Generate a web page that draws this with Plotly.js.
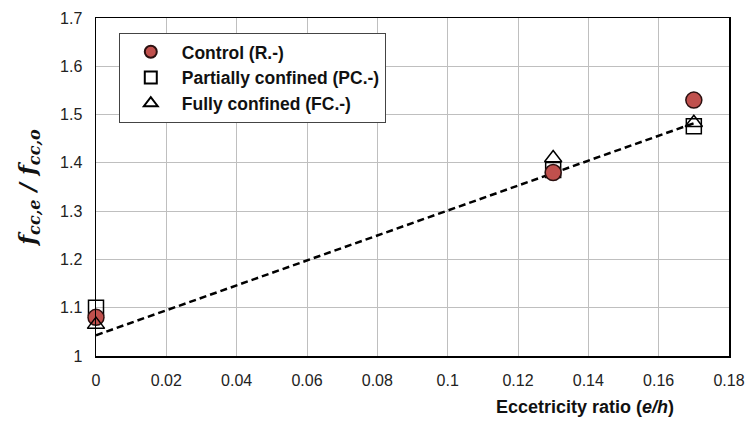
<!DOCTYPE html>
<html>
<head>
<meta charset="utf-8">
<script src="https://cdn.plot.ly/plotly-3.0.1.min.js"></script>
<style>html,body{margin:0;padding:0;background:#fff;}#chart{width:748px;height:428px;}</style>
</head>
<body>
<div id="chart"></div>
<script>
// Data
const ecc = [0, 0.13, 0.17];
const controlVals = [1.08, 1.38, 1.53];
const partialVals = [1.10, 1.385, 1.476];
const fullVals = [1.065, 1.41, 1.483];
const trendX = [0, 0.17];
const trendY = [1.043, 1.482];
const xTicks = [0, 0.02, 0.04, 0.06, 0.08, 0.1, 0.12, 0.14, 0.16, 0.18];
const xTickText = ['0', '0.02', '0.04', '0.06', '0.08', '0.1', '0.12', '0.14', '0.16', '0.18'];
const yTicks = [1, 1.1, 1.2, 1.3, 1.4, 1.5, 1.6, 1.7];
const yTickText = ['1', '1.1', '1.2', '1.3', '1.4', '1.5', '1.6', '1.7'];

const traces = [
  {x: trendX, y: trendY, mode: 'lines', showlegend: false, hoverinfo: 'skip', cliponaxis: false,
   line: {color: '#000', width: 2.5, dash: '7px,4px'}},
  {x: ecc, y: partialVals, mode: 'markers', name: 'Partially confined (PC.-)', legendrank: 2, cliponaxis: false,
   marker: {symbol: 'square-open', size: 15, color: '#000', line: {width: 1.5, color: '#000'}}},
  {x: ecc, y: controlVals, mode: 'markers', name: 'Control (R.-)', legendrank: 1, cliponaxis: false,
   marker: {symbol: 'circle', size: 16, color: '#c0504d', line: {width: 1.5, color: '#2b1010'}}},
  {x: ecc, y: fullVals, mode: 'markers', name: 'Fully confined (FC.-)', legendrank: 3, cliponaxis: false,
   marker: {symbol: 'triangle-up-open', size: 15, color: '#000', line: {width: 1.5, color: '#000'}}}
];

const layout = {
  width: 748, height: 428,
  margin: {l: 96, r: 19, t: 18, b: 72},
  paper_bgcolor: '#fff', plot_bgcolor: '#fff',
  font: {family: 'Liberation Sans, Arial, sans-serif', color: '#222', size: 16},
  showlegend: true,
  legend: {x: 0.036, y: 0.956, xanchor: 'left', yanchor: 'top',
           bgcolor: '#fff', bordercolor: '#444', borderwidth: 1,
           font: {size: 17.5, color: '#111', family: 'Liberation Sans, Arial, sans-serif', weight: 'bold'},
           traceorder: 'normal', tracegroupgap: 0, itemwidth: 52, itemsizing: 'constant'},
  xaxis: {range: [0, 0.18], tickvals: xTicks, ticktext: xTickText,
          showgrid: true, gridcolor: '#bfbfbf', gridwidth: 1,
          showline: true, linecolor: '#000', linewidth: 1.5, mirror: true,
          ticks: '', zeroline: false, ticklabelstandoff: 9, tickfont: {size: 16, color: '#222'}},
  yaxis: {range: [1, 1.7], tickvals: yTicks, ticktext: yTickText,
          showgrid: true, gridcolor: '#bfbfbf', gridwidth: 1,
          showline: true, linecolor: '#000', linewidth: 1.5, mirror: true,
          ticks: '', zeroline: false, ticklabelstandoff: 9, tickfont: {size: 16, color: '#222'},
          title: {text: '<b><i>f</i></b><sub><b><i>cc,e</i></b></sub><b><i> / f</i></b><sub><b><i>cc,o</i></b></sub>',
                  font: {size: 23, color: '#111', family: 'DejaVu Serif, serif'}, standoff: 18}},
  annotations: [
    {text: '<b>Eccetricity ratio (<i>e/h</i>)</b>', xref: 'paper', yref: 'paper',
     x: 0.7725, y: -0.152, xanchor: 'center', yanchor: 'middle', showarrow: false,
     font: {size: 18, color: '#111', family: 'Liberation Sans, Arial, sans-serif'}}
  ]
};

Plotly.newPlot('chart', traces, layout, {displayModeBar: false, staticPlot: true});
</script>
</body>
</html>
